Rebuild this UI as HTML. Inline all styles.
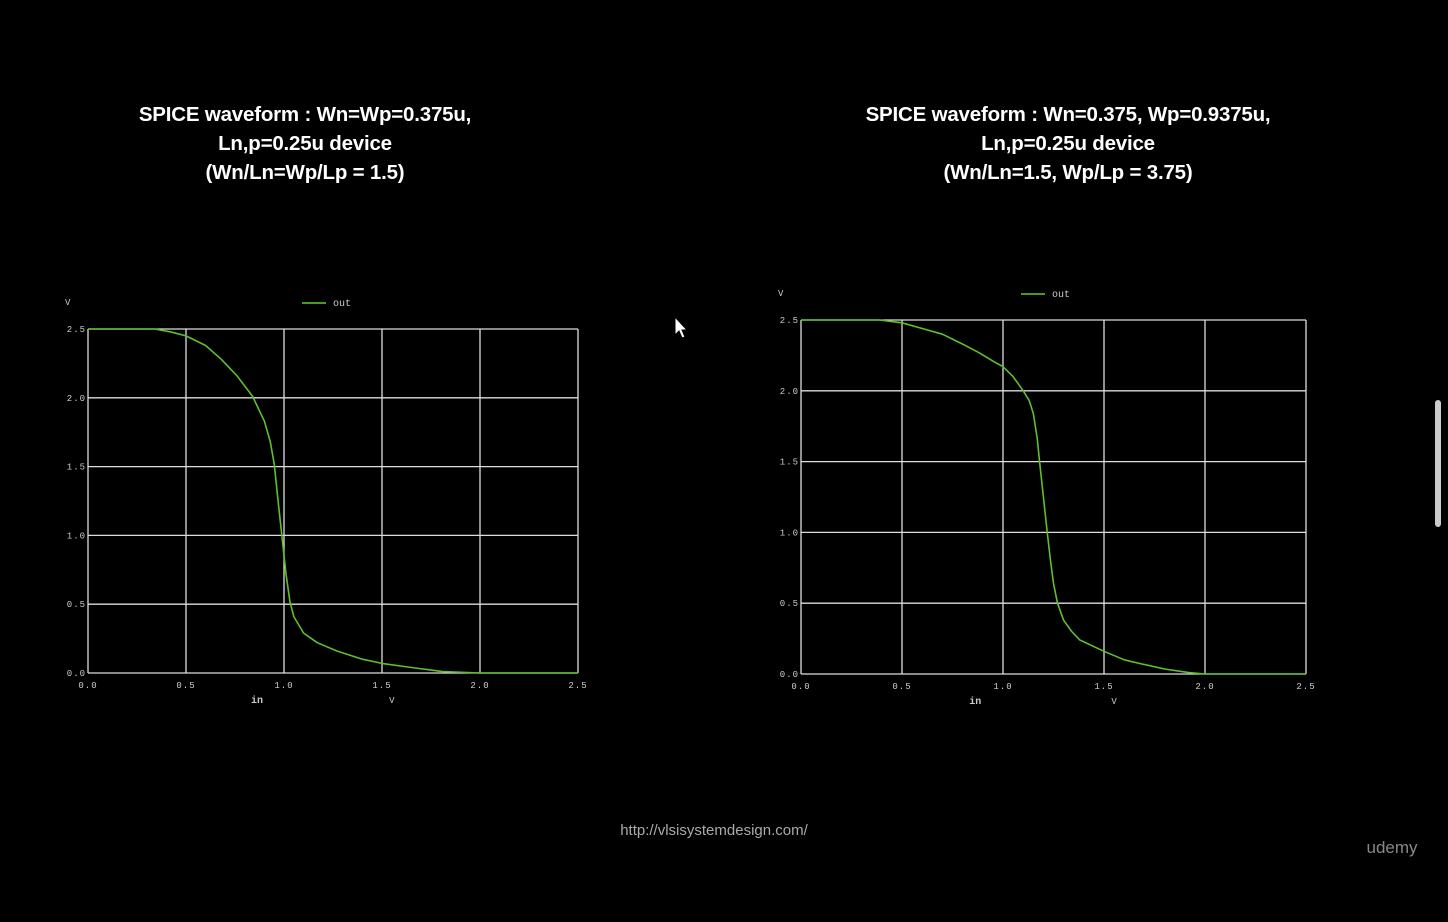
<!DOCTYPE html>
<html><head><meta charset="utf-8"><style>
html,body{margin:0;padding:0;background:#000;width:1448px;height:922px;overflow:hidden}
.title{position:absolute;color:#fff;font-family:"Liberation Sans",sans-serif;font-weight:bold;font-size:20.5px;line-height:29px;text-align:center;white-space:nowrap;letter-spacing:-0.2px}
</style></head><body>
<div class="title" style="left:105px;top:100px;width:400px">SPICE waveform : Wn=Wp=0.375u,<br>Ln,p=0.25u device<br>(Wn/Ln=Wp/Lp = 1.5)</div>
<div class="title" style="left:818px;top:100px;width:500px">SPICE waveform : Wn=0.375, Wp=0.9375u,<br>Ln,p=0.25u device<br>(Wn/Ln=1.5, Wp/Lp = 3.75)</div>
<svg id="svg" width="1448" height="922" style="position:absolute;left:0;top:0">
<text x="714" y="835" fill="#aaa" font-family="Liberation Sans,sans-serif" font-size="15" text-anchor="middle">http://vlsisystemdesign.com/</text>
<text x="1392" y="853" fill="#888" font-family="Liberation Sans,sans-serif" font-size="17" text-anchor="middle">udemy</text>
<rect x="1435" y="400" width="6" height="127" rx="3" fill="#ccc"/>
<path d="M675 317 L675 335 L679 331 L682 338 L685 337 L682 330 L687 330 Z" fill="#fff" stroke="#000"/>
</svg>
<script>
const xTicks=[0,0.5,1.0,1.5,2.0,2.5];
const yTicks=[0,0.5,1.0,1.5,2.0,2.5];
const tickLabels=["0.0","0.5","1.0","1.5","2.0","2.5"];
const leftIn=[0,0.34,0.42,0.5,0.6,0.68,0.76,0.84,0.90,0.93,0.95,0.97,0.99,1.01,1.03,1.05,1.10,1.17,1.27,1.4,1.5,1.65,1.81,2.0,2.5];
const leftOut=[2.5,2.5,2.48,2.45,2.38,2.28,2.16,2.01,1.83,1.68,1.52,1.25,0.99,0.72,0.52,0.41,0.29,0.22,0.16,0.1,0.07,0.04,0.01,0,0];
const rightIn=[0,0.39,0.5,0.6,0.7,0.8,0.88,0.95,1.0,1.05,1.1,1.13,1.15,1.17,1.18,1.20,1.22,1.235,1.25,1.27,1.30,1.34,1.38,1.5,1.6,1.69,1.8,1.92,2.0,2.5];
const rightOut=[2.5,2.5,2.48,2.44,2.4,2.33,2.27,2.21,2.17,2.1,2.0,1.93,1.84,1.66,1.51,1.25,0.99,0.8,0.64,0.5,0.38,0.3,0.24,0.16,0.1,0.07,0.035,0.01,0,0];
const svg=document.getElementById('svg');
const NS='http://www.w3.org/2000/svg';
function mk(tag,attrs){const e=document.createElementNS(NS,tag);for(const k in attrs)e.setAttribute(k,attrs[k]);svg.appendChild(e);return e;}
function chart(p,xs,ys,name){
  const sx=v=>p.x0+(v/2.5)*(p.x1-p.x0), sy=v=>p.y0-(v/2.5)*(p.y0-p.y1);
  const font="Liberation Mono,monospace";
  xTicks.forEach((t,i)=>{
    const l=mk('line',{x1:sx(t),x2:sx(t),y1:p.y1,y2:p.y0,stroke:'#ddd','stroke-width':1.3});
    
    
    const tx=mk('text',{x:sx(t),y:p.y0+15,fill:'#ccc','font-family':font,'font-size':9,'text-anchor':'middle','letter-spacing':1});
    tx.textContent=tickLabels[i];
    
    
  });
  yTicks.forEach((t,i)=>{
    const l=mk('line',{x1:p.x0,x2:p.x1,y1:sy(t),y2:sy(t),stroke:'#ddd','stroke-width':1.3});
    
    
    const tx=mk('text',{x:p.x0-2,y:sy(t)+3,fill:'#ccc','font-family':font,'font-size':9,'text-anchor':'end','letter-spacing':1});
    tx.textContent=tickLabels[i];
    
    
  });
  let d='';xs.forEach((v,i)=>{d+=(i?'L':'M')+sx(v).toFixed(1)+' '+sy(ys[i]).toFixed(1)+' ';});
  const path=mk('path',{d:d,fill:'none',stroke:'#5fbf30','stroke-width':1.6,'stroke-linejoin':'round'});
  
  
  const ly=p.y1-26;
  const ll=mk('line',{x1:p.lx,x2:p.lx+24,y1:ly,y2:ly,stroke:'#4a9a20','stroke-width':2});
  
  
  const lt=mk('text',{x:p.lx+31,y:ly+3,fill:'#ccc','font-family':font,'font-size':10});
  lt.textContent='out';
  
  
  const yl=mk('text',{x:p.x0-23,y:ly+2,fill:'#ccc','font-family':font,'font-size':9});
  yl.textContent='V';
  
  
  const xl=mk('text',{x:p.x0+(p.x1-p.x0)*0.345,y:p.y0+30,fill:'#ccc','font-family':font,'font-size':10,'font-weight':'bold','text-anchor':'middle'});
  xl.textContent='in';
  
  
  const xu=mk('text',{x:p.x0+(p.x1-p.x0)*0.62,y:p.y0+30,fill:'#ccc','font-family':font,'font-size':9,'text-anchor':'middle'});
  xu.textContent='V';
  
  
}
chart({x0:88,x1:578,y0:673,y1:329,lx:302},leftIn,leftOut,'left-chart');
chart({x0:801,x1:1306,y0:674,y1:320,lx:1021},rightIn,rightOut,'right-chart');
</script>
</body></html>
